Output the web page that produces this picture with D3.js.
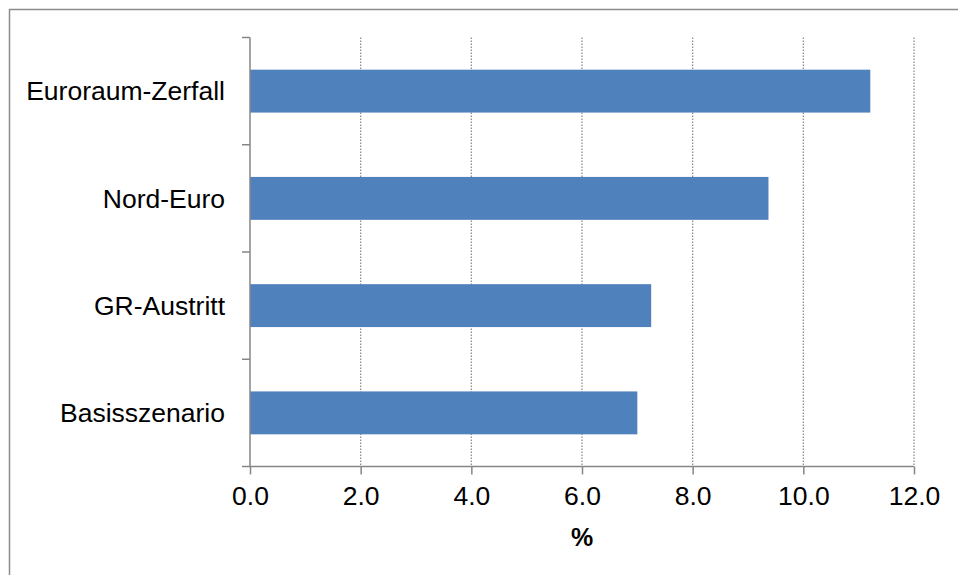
<!DOCTYPE html>
<html>
<head>
<meta charset="utf-8">
<script src="https://cdn.jsdelivr.net/npm/d3@7"></script>
<style>
  html, body { margin: 0; padding: 0; background: #fff; }
  svg { display: block; font-family: Arial, "Liberation Sans", sans-serif; }
</style>
</head>
<body>
<svg id="chart" width="958" height="575"></svg>
<script>
// Scenario results (%), listed top to bottom
const scenarios = ["Euroraum-Zerfall", "Nord-Euro", "GR-Austritt", "Basisszenario"];
const values = [11.21, 9.37, 7.25, 7.0];
const xTicks = [0, 2, 4, 6, 8, 10, 12];
const xTitle = "%";

const svg = d3.select("#chart");
const margin = { left: 250, right: 44, top: 37.5, bottom: 108.5 };
const W = 958, H = 575;
const axisColor = "#868686";
const labelSize = "26.5px";

// outer frame
svg.append("rect")
  .attr("x", 9.5).attr("y", 9.5)
  .attr("width", W + 20).attr("height", H + 20)
  .attr("fill", "none").attr("stroke", "#8c8c8c").attr("stroke-width", 1.5);

const x = d3.scaleLinear().domain([0, 12]).range([margin.left, W - margin.right]);
const y = d3.scaleBand().domain(scenarios)
  .range([margin.top, H - margin.bottom])
  .paddingInner(0.6).paddingOuter(0.3);

const y0 = margin.top, y1 = H - margin.bottom;

// dotted vertical gridlines
svg.append("g").selectAll("line")
  .data(xTicks.filter(d => d > 0))
  .join("line")
  .attr("x1", d => x(d)).attr("x2", d => x(d))
  .attr("y1", y0).attr("y2", y1)
  .attr("stroke", axisColor).attr("stroke-width", 1.2)
  .attr("stroke-dasharray", "1.5,1.5");

// bars
svg.append("g").selectAll("rect")
  .data(scenarios.map((s, i) => ({ s, v: values[i] })))
  .join("rect")
  .attr("x", x(0))
  .attr("y", d => y(d.s))
  .attr("width", d => x(d.v) - x(0))
  .attr("height", y.bandwidth())
  .attr("fill", "#4f81bd");

// x axis
const xAxis = d3.axisBottom(x)
  .tickValues(xTicks)
  .tickFormat(d3.format(".1f"))
  .tickSize(8)
  .tickPadding(12);
const gx = svg.append("g")
  .attr("transform", `translate(0,${y1})`)
  .call(xAxis);
gx.select(".domain").remove();
gx.append("line")
  .attr("x1", x(0) - 8).attr("x2", x(12))
  .attr("stroke", axisColor).attr("stroke-width", 1.5);
gx.selectAll(".tick line").attr("stroke", axisColor).attr("stroke-width", 1.5);
gx.selectAll(".tick text")
  .attr("fill", "#000").style("font-size", labelSize)
  .style("font-family", "Arial, 'Liberation Sans', sans-serif");

// y axis: line with ticks at category boundaries
const gy = svg.append("g");
gy.append("line")
  .attr("x1", x(0)).attr("x2", x(0))
  .attr("y1", y0).attr("y2", y1)
  .attr("stroke", axisColor).attr("stroke-width", 1.5);
const step = (y1 - y0) / scenarios.length;
gy.selectAll("line.tk")
  .data(d3.range(scenarios.length))
  .join("line")
  .attr("class", "tk")
  .attr("x1", x(0) - 8).attr("x2", x(0))
  .attr("y1", i => y0 + i * step).attr("y2", i => y0 + i * step)
  .attr("stroke", axisColor).attr("stroke-width", 1.5);
gy.selectAll("text")
  .data(scenarios)
  .join("text")
  .attr("x", x(0) - 25)
  .attr("y", d => y(d) + y.bandwidth() / 2)
  .attr("dy", "0.35em")
  .attr("text-anchor", "end")
  .style("font-size", labelSize)
  .attr("fill", "#000")
  .text(d => d);

// axis title
svg.append("text")
  .attr("x", (x(0) + x(12)) / 2)
  .attr("y", 546)
  .attr("text-anchor", "middle")
  .style("font-size", "25px")
  .style("font-weight", "bold")
  .text(xTitle);
</script>
</body>
</html>
